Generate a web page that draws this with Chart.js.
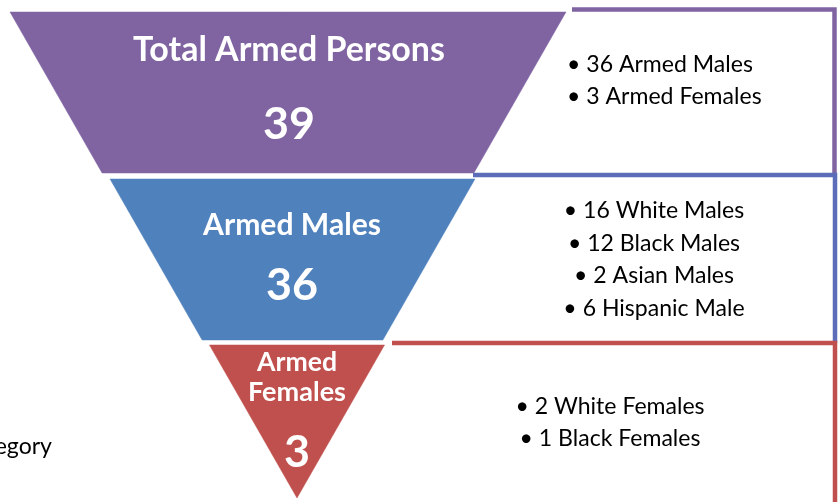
<!DOCTYPE html>
<html>
<head>
<meta charset="utf-8">
<script src="https://cdn.jsdelivr.net/npm/chart.js@4.4.1/dist/chart.umd.min.js"></script>
<style>
  html, body { margin: 0; padding: 0; background: #ffffff; }
  #wrap { width: 839px; height: 502px; position: relative; overflow: hidden; }
  canvas { display: block; }
</style>
</head>
<body>
<div id="wrap"><canvas id="c" width="839" height="502" style="width:839px;height:502px"></canvas></div>
<script>
// ---------------- DATA ----------------
const stageNames = ['Total Armed Persons', 'Armed Males', 'Armed Females'];
const stageCounts = [39, 36, 3];
const totalGroups = ['Armed Males', 'Armed Females'];
const totalCounts = [36, 3];
const maleGroups = ['White Males', 'Black Males', 'Asian Males', 'Hispanic Male'];
const maleCounts = [16, 12, 2, 6];
const femaleGroups = ['White Females', 'Black Females'];
const femaleCounts = [2, 1];
const sideLabel = 'Category';

// ---------------- LAYOUT / STYLE ----------------
const W = 839, H = 502;
const stageColors = ['#8064A2', '#4F81BD', '#C0504D'];
const boxColors = ['#8064A2', '#5B6CB9', '#C0504D'];
const funnel = { apexY: 498, slope: 0.572 };
const bands = [[12, 173], [179, 340], [345, 498]];
const centers = [288, 292.5, 297];
const boxes = [
  { top: 9.5, startX: 572, right: 834.5, bottom: 175 },
  { top: 175, startX: 473, right: 835, bottom: 343 },
  { top: 343, startX: 392, right: 835, bottom: 504 }
];
const nameLayout = [
  { lines: [stageNames[0]], cx: 289, ys: [49], widths: [312], valY: 123 },
  { lines: [stageNames[1]], cx: 292, ys: [224], widths: [178], valY: 284 },
  { lines: stageNames[2].split(' '), cx: 297, ys: [361, 391], widths: [80, 98], valY: 451 }
];
const detailLayout = [
  { align: 'left', x: 567, ys: [63.5, 95.5] },
  { align: 'center', x: 654, ys: [210, 243, 275, 308] },
  { align: 'center', x: 610, ys: [406, 438] }
];
const detailGroups = [
  totalGroups.map((g, i) => '\u2022 ' + totalCounts[i] + ' ' + g),
  maleGroups.map((g, i) => '\u2022 ' + maleCounts[i] + ' ' + g),
  femaleGroups.map((g, i) => '\u2022 ' + femaleCounts[i] + ' ' + g)
];
const FONT = 'Lato';

function halfWidth(y) { return funnel.slope * (funnel.apexY - y); }

// funnel segments as closed polygons (shape-filled line datasets)
const segDatasets = bands.map((b, i) => {
  const c = centers[i];
  const [t, bt] = b;
  const pts = [
    { x: c - halfWidth(t), y: t },
    { x: c + halfWidth(t), y: t },
    { x: c + halfWidth(bt), y: bt },
    { x: c - halfWidth(bt), y: bt },
    { x: c - halfWidth(t), y: t }
  ];
  return {
    label: stageNames[i],
    data: pts,
    showLine: true,
    fill: 'shape',
    backgroundColor: stageColors[i],
    borderColor: stageColors[i],
    borderWidth: 0.5,
    pointRadius: 0,
    tension: 0,
    order: 0
  };
});

const boxDatasets = boxes.map((bx, i) => ({
  label: 'box' + i,
  data: [
    { x: bx.startX, y: bx.top },
    { x: bx.right, y: bx.top },
    { x: bx.right, y: bx.bottom }
  ],
  showLine: true,
  fill: false,
  borderColor: boxColors[i],
  borderWidth: 4.5,
  borderJoinStyle: 'miter',
  pointRadius: 0,
  tension: 0,
  order: 1 + (2 - i)
}));

function fitSize(ctx, text, weight, width) {
  ctx.font = weight + ' 100px ' + FONT;
  return 100 * width / ctx.measureText(text).width;
}

const labelPlugin = {
  id: 'funnelLabels',
  afterDatasetsDraw(chart) {
    const ctx = chart.ctx;
    const xs = chart.scales.x, ys = chart.scales.y;
    ctx.save();
    const valSize = fitSize(ctx, String(stageCounts[0]), 'bold', 52);
    nameLayout.forEach((L, i) => {
      ctx.fillStyle = '#ffffff';
      ctx.textAlign = 'center';
      ctx.textBaseline = 'alphabetic';
      L.lines.forEach((line, j) => {
        const s = fitSize(ctx, line, 'bold', L.widths[j]);
        ctx.font = 'bold ' + s.toFixed(2) + 'px ' + FONT;
        ctx.fillText(line, xs.getPixelForValue(L.cx), ys.getPixelForValue(L.ys[j]) + 0.358 * s);
      });
      ctx.font = 'bold ' + valSize.toFixed(2) + 'px ' + FONT;
      ctx.fillText(String(stageCounts[i]), xs.getPixelForValue(L.cx), ys.getPixelForValue(L.valY) + 0.358 * valSize);
    });
    const detSize = fitSize(ctx, detailGroups[0][0], 'normal', 186);
    ctx.font = 'normal ' + detSize.toFixed(2) + 'px ' + FONT;
    ctx.fillStyle = '#000000';
    detailLayout.forEach((D, i) => {
      ctx.textAlign = D.align;
      detailGroups[i].forEach((t, j) => {
        ctx.fillText(t, xs.getPixelForValue(D.x), ys.getPixelForValue(D.ys[j]) + 0.358 * detSize);
      });
    });
    ctx.textAlign = 'right';
    ctx.fillText(sideLabel, xs.getPixelForValue(52), ys.getPixelForValue(446) + 0.358 * detSize);
    ctx.restore();
  }
};

function build() {
  new Chart(document.getElementById('c'), {
    type: 'scatter',
    data: { datasets: [...segDatasets, ...boxDatasets] },
    options: {
      animation: false,
      responsive: false,
      maintainAspectRatio: false,
      devicePixelRatio: 1,
      layout: { padding: 0 },
      plugins: { legend: { display: false }, tooltip: { enabled: false } },
      scales: {
        x: { type: 'linear', min: 0, max: W, display: false },
        y: { type: 'linear', min: 0, max: H, reverse: true, display: false }
      }
    },
    plugins: [labelPlugin]
  });
}

Promise.all([
  document.fonts.load('bold 40px Lato'),
  document.fonts.load('20px Lato')
]).then(build, build);
</script>
</body>
</html>
